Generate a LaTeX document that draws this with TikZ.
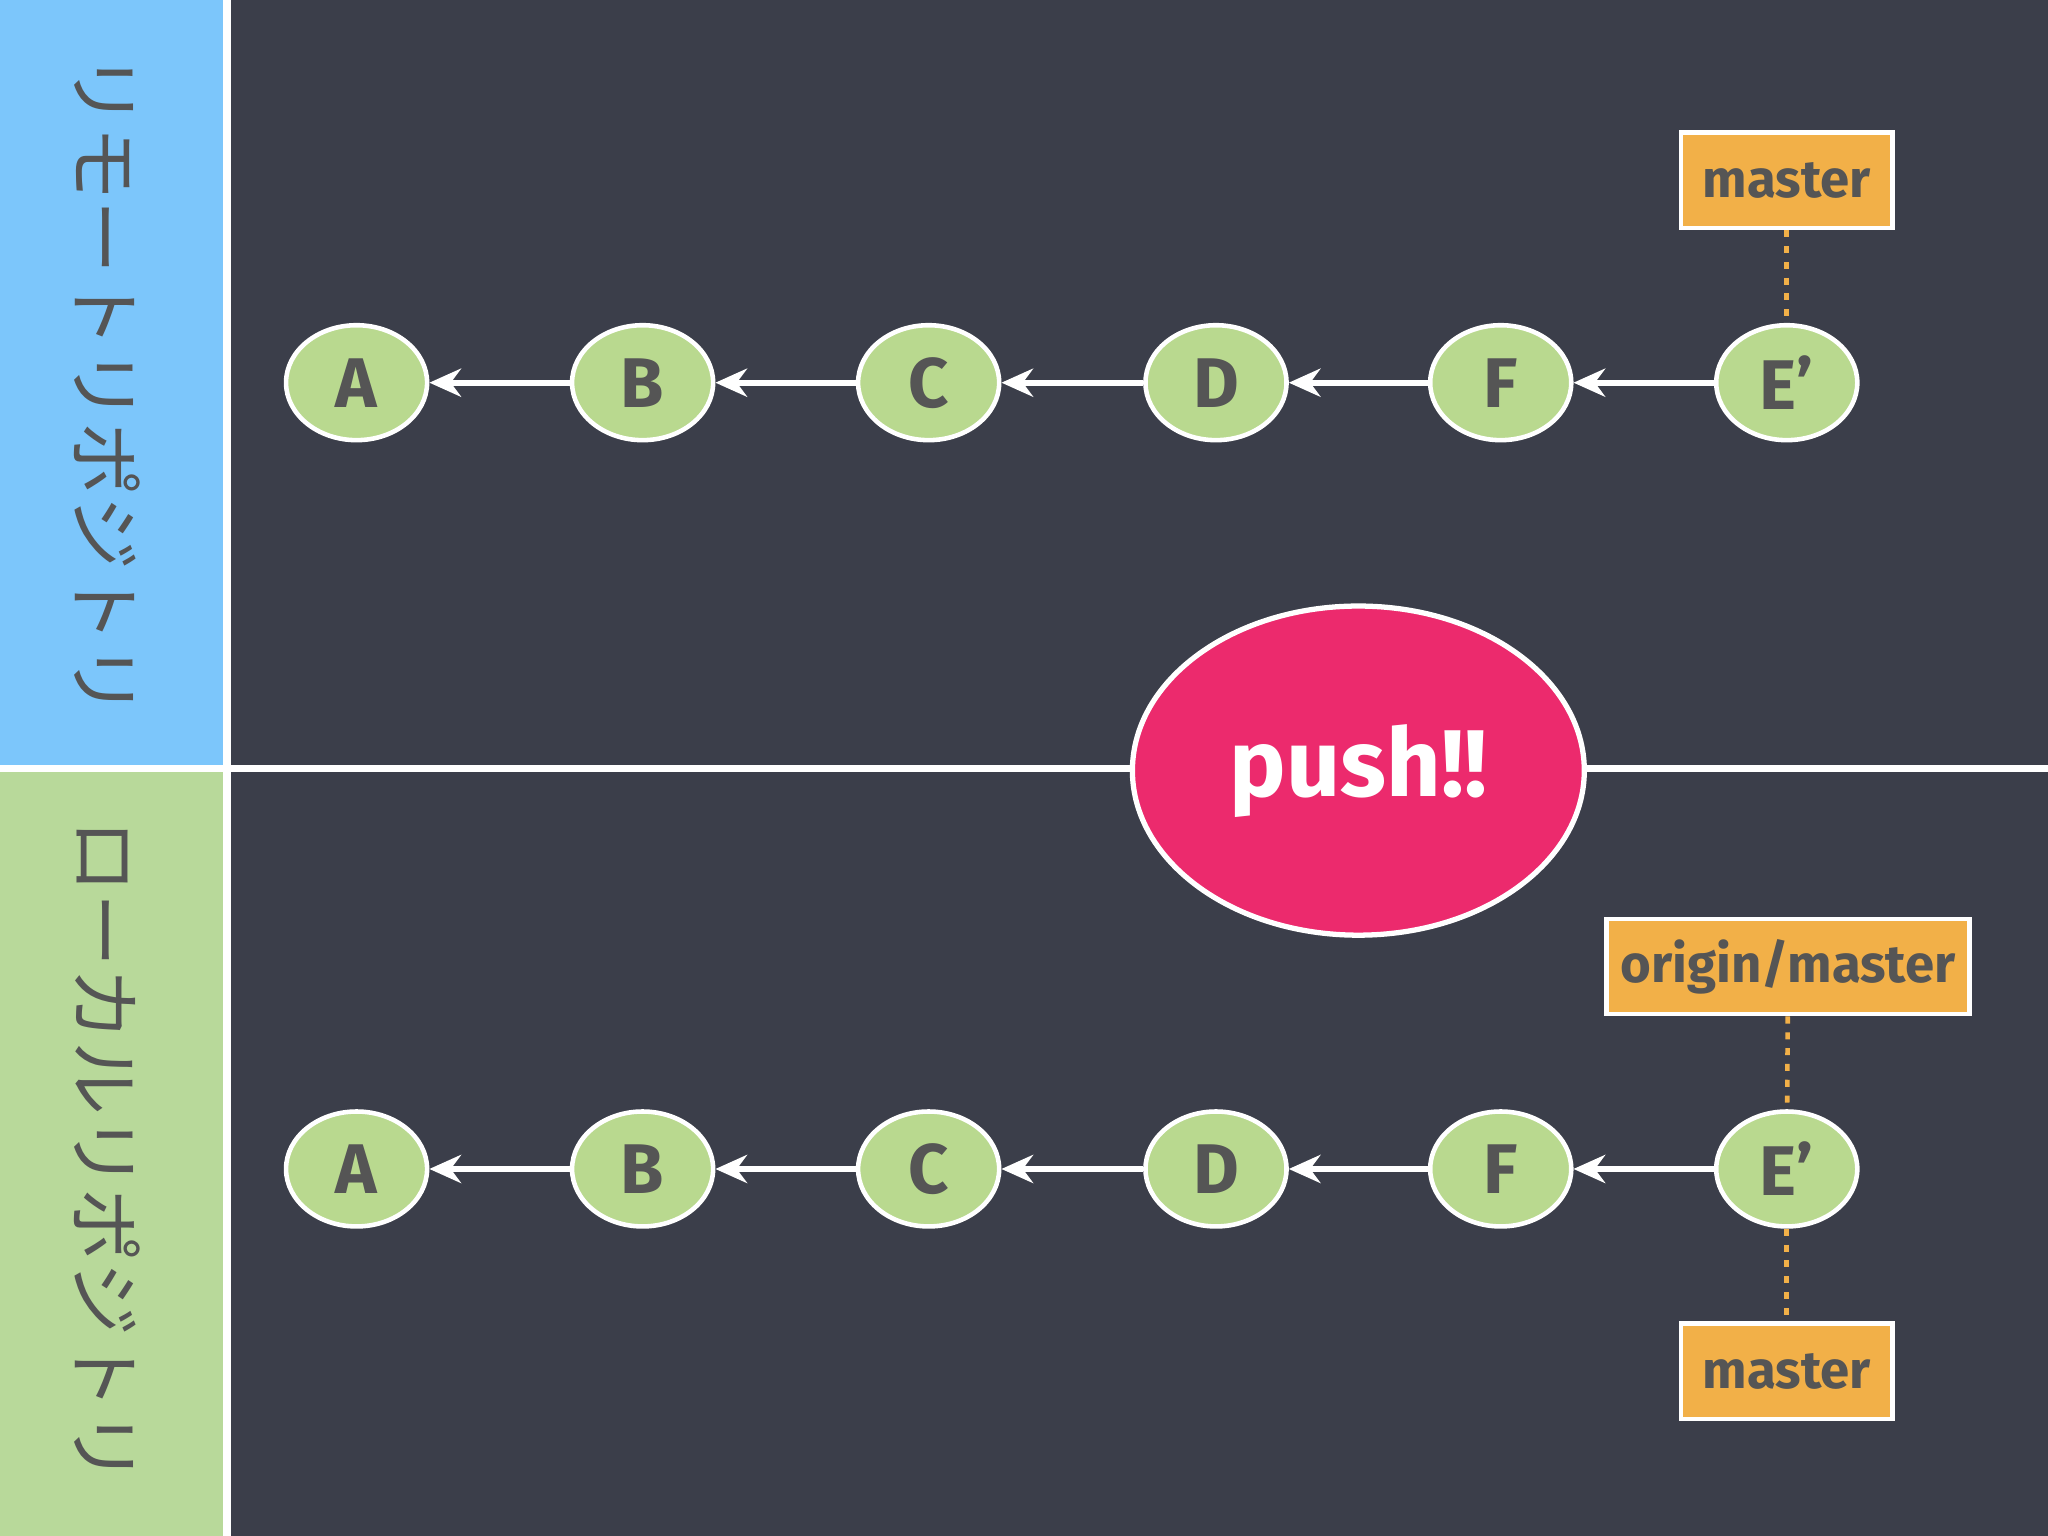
\documentclass[tikz,border=0pt]{standalone}
\usepackage{fontspec}
\setmainfont{Fira Sans}
\newfontfamily\cjk{Noto Sans CJK JP}
\usetikzlibrary{shapes.geometric,arrows.meta}
\definecolor{bg}{HTML}{3B3E4A}
\definecolor{bluep}{HTML}{7CC6FB}
\definecolor{greenp}{HTML}{B8D99A}
\definecolor{nodeg}{HTML}{B9D98F}
\definecolor{txt}{HTML}{555555}
\definecolor{orng}{HTML}{F2B048}
\definecolor{pink}{HTML}{EC2A6D}
\tikzset{
 c/.style={ellipse,draw=white,line width=1.3pt,fill=nodeg,minimum width=108*0.01306cm,minimum height=88*0.01306cm,inner sep=0pt,text=txt,font=\fontsize{20}{20}\selectfont\bfseries},
 lab/.style={rectangle,draw=white,line width=1.3pt,fill=orng,minimum height=73*0.01306cm,inner sep=0pt,text=txt,font=\fontsize{15}{15}\selectfont\bfseries},
 arr/.style={white,line width=1.8pt,-{Stealth[length=9pt,width=8pt]}},
 dot/.style={orng,line width=1.3pt,dash pattern=on 2pt off 2.5pt},
 jp/.style={rotate=-90,text=txt,font=\cjk\fontsize{21}{21}\selectfont}
}
\begin{document}
\begin{tikzpicture}[x=0.01306cm,y=-0.01306cm]
\useasboundingbox (0,0) rectangle (1568,1176);
\fill[bg] (0,0) rectangle (1568,1176);
\fill[bluep] (0,0) rectangle (171,586);
\fill[greenp] (0,591) rectangle (171,1176);
\fill[white] (171,0) rectangle (177,1176);
\fill[white] (0,586) rectangle (1568,591);
\node[jp] (r) at (82,295) {リモートリポジトリ};
\node[jp] (l) at (82,882) {ローカルリポジトリ};
\foreach \n/\x in {A/273,B/492,C/711,D/931,F/1149}{
 \node[c] (t\n) at (\x,293) {\n};
 \node[c] (b\n) at (\x,895) {\n};
}
\node[c] (tE) at (1368,293) {E’};
\node[c] (bE) at (1368,895) {E’};
\foreach \p in {t,b}{
 \draw[arr] (\p E) -- (\p F);
 \draw[arr] (\p F) -- (\p D);
 \draw[arr] (\p D) -- (\p C);
 \draw[arr] (\p C) -- (\p B);
 \draw[arr] (\p B) -- (\p A);
}
\node[lab,minimum width=162*0.01306cm] (m1) at (1368,138) {master};
\node[lab,minimum width=278*0.01306cm] (om) at (1369,740) {origin/master};
\node[lab,minimum width=162*0.01306cm] (m2) at (1368,1050) {master};
\draw[dot] (m1) -- (tE);
\draw[dot] (om) -- (bE);
\draw[dot] (bE) -- (m2);
\node[ellipse,draw=white,line width=1.5pt,fill=pink,minimum width=346*0.01306cm,minimum height=252*0.01306cm,text=white,font=\fontsize{27}{27}\selectfont\bfseries] (push) at (1040,590) {push!!};
\end{tikzpicture}
\end{document}
